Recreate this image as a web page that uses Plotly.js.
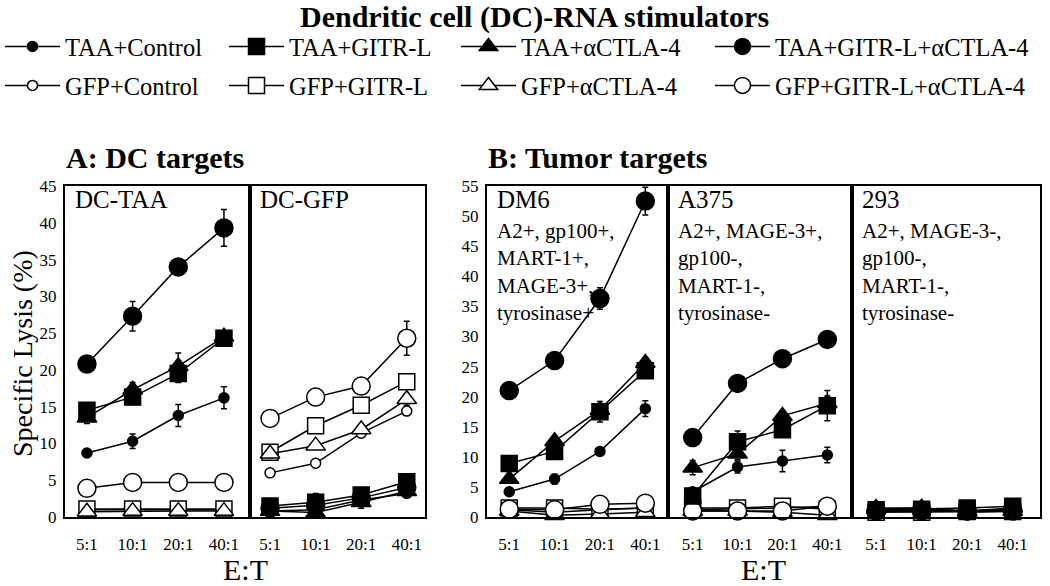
<!DOCTYPE html>
<html>
<head>
<meta charset="utf-8">
<script src="https://cdn.plot.ly/plotly-3.0.1.min.js"></script>
<style>html,body{margin:0;padding:0;background:#fff;}#chart{width:1050px;height:586px;}</style>
</head>
<body>
<div id="chart"></div>
<script>
// ---- data ----
const ratios = ['5:1', '10:1', '20:1', '40:1'];
const seriesNames = ['TAA+Control', 'TAA+GITR-L', 'TAA+αCTLA-4', 'TAA+GITR-L+αCTLA-4',
                     'GFP+Control', 'GFP+GITR-L', 'GFP+αCTLA-4', 'GFP+GITR-L+αCTLA-4'];
const panelNames = ['DC-TAA', 'DC-GFP', 'DM6', 'A375', '293'];
const panelNotes = ['', '', 'A2+, gp100+,<br>MART-1+,<br>MAGE-3+,<br>tyrosinase+',
                    'A2+, MAGE-3+,<br>gp100-,<br>MART-1-,<br>tyrosinase-',
                    'A2+, MAGE-3-,<br>gp100-,<br>MART-1-,<br>tyrosinase-'];
const yTicksA = [0, 5, 10, 15, 20, 25, 30, 35, 40, 45];
const yTicksB = [0, 5, 10, 15, 20, 25, 30, 35, 40, 45, 50, 55];

// rows follow seriesNames order
const dcTaa = [
  [8.7, 10.3, 13.8, 16.2],
  [14.5, 16.3, 19.5, 24.3],
  [13.5, 17.3, 20.5, 24.5],
  [20.8, 27.3, 34.0, 39.3],
  [1.0, 1.0, 1.0, 1.0],
  [1.1, 1.1, 1.1, 1.1],
  [0.7, 0.8, 0.8, 0.8],
  [3.9, 4.7, 4.7, 4.7]
];
const dcTaaErr = [
  [0.4, 1.0, 1.5, 1.5],
  [0.8, 1.0, 1.2, 0.8],
  [0.8, 1.0, 1.8, 0.8],
  [0.8, 2.0, 0.8, 2.5],
  [0.3, 0.3, 0.3, 0.3],
  [0.3, 0.3, 0.3, 0.3],
  [0.3, 0.4, 0.4, 0.4],
  [0.6, 0.6, 0.3, 0.3]
];
const dcGfp = [
  [0.8, 1.0, 2.3, 3.2],
  [1.5, 2.0, 3.0, 4.8],
  [0.8, 0.6, 2.0, 3.5],
  [1.2, 1.6, 2.6, 4.0],
  [6.0, 7.3, 11.4, 14.4],
  [8.8, 12.4, 15.2, 18.4],
  [8.6, 9.7, 11.9, 16.0],
  [13.4, 16.3, 17.8, 24.3]
];
const dcGfpErr = [
  [0.3, 0.4, 0.5, 0.5],
  [0.5, 1.2, 0.8, 0.7],
  [0.3, 0.4, 0.8, 0.5],
  [0.4, 0.5, 0.6, 0.6],
  [0.3, 0.4, 0.4, 0.4],
  [0.5, 0.5, 0.5, 0.7],
  [0.5, 0.5, 0.5, 0.8],
  [0.6, 0.6, 0.5, 2.3]
];
const dm6 = [
  [4.2, 6.3, 10.9, 18.0],
  [8.9, 10.9, 17.5, 24.3],
  [6.3, 12.6, 17.8, 25.6],
  [21.0, 26.0, 36.3, 52.5],
  [1.2, 0.8, 1.2, 1.5],
  [1.5, 1.5, 1.3, 1.5],
  [1.0, 0.3, 0.5, 0.8],
  [1.3, 1.2, 2.1, 2.3]
];
const dm6Err = [
  [0.6, 0.8, 0.3, 1.3],
  [0.5, 0.5, 1.7, 0.8],
  [0.5, 0.8, 1.0, 0.8],
  [0.5, 1.0, 1.8, 2.3],
  [0.3, 0.3, 0.3, 0.3],
  [0.3, 0.4, 0.4, 0.3],
  [0.3, 0.3, 0.3, 0.3],
  [0.3, 0.3, 0.3, 0.3]
];
const a375 = [
  [4.2, 8.3, 9.3, 10.3],
  [3.5, 12.5, 14.5, 18.5],
  [8.2, 10.5, 16.8, 18.9],
  [13.2, 22.2, 26.3, 29.5],
  [1.2, 1.3, 1.5, 1.8],
  [1.5, 1.5, 1.8, 1.3],
  [1.0, 1.0, 0.8, 0.3],
  [1.0, 1.0, 1.0, 1.8]
];
const a375Err = [
  [0.5, 1.0, 1.8, 1.3],
  [1.0, 1.8, 0.8, 2.5],
  [1.2, 1.0, 0.8, 1.2],
  [0.5, 0.5, 0.5, 1.0],
  [0.3, 0.3, 0.4, 0.4],
  [0.3, 0.3, 0.4, 0.4],
  [0.3, 0.3, 0.3, 0.3],
  [0.3, 0.3, 0.3, 0.6]
];
const hek293 = [
  [1.2, 1.2, 1.0, 1.3],
  [1.2, 1.3, 1.5, 1.8],
  [1.5, 1.5, 1.0, 1.5],
  [1.0, 1.0, 1.0, 1.2],
  [1.0, 1.0, 1.0, 1.0],
  [0.8, 0.8, 0.9, 0.9],
  [1.3, 1.5, 0.8, 1.0],
  [1.0, 1.0, 1.0, 1.0]
];
const hek293Err = [
  [0.3, 0.3, 0.3, 0.3],
  [0.3, 0.3, 0.3, 0.4],
  [0.3, 0.3, 0.3, 0.3],
  [0.3, 0.3, 0.3, 0.3],
  [0.3, 0.3, 0.3, 0.3],
  [0.3, 0.3, 0.3, 0.3],
  [0.3, 0.3, 0.3, 0.3],
  [0.3, 0.3, 0.3, 0.3]
];

// ---- styling ----
const W = 1050, H = 586;
const FONT = 'Liberation Serif, Times New Roman, serif';
const symbols = ['circle', 'square', 'triangle-up', 'circle', 'circle', 'square', 'triangle-up', 'circle'];
const sizes = [10, 16, 17, 18, 10, 16, 17, 18];
const fills = ['black', 'black', 'black', 'black', 'white', 'white', 'white', 'white'];
// text-part widths of legend columns (symbol part is added by plotly)
const legendWidths = [154, 162, 184, 262];

const panelData = [dcTaa, dcGfp, dm6, a375, hek293];
const panelErr = [dcTaaErr, dcGfpErr, dm6Err, a375Err, hek293Err];
// pixel frames [left, right]
const frames = [[65, 250], [250, 425], [487, 668], [668, 852], [852, 1040]];
const xRanges = [[-0.48, 3.57], [-0.44, 3.4], [-0.49, 3.5], [-0.55, 3.55], [-0.53, 3.6]];
const yDom = [1 - 517 / H, 1 - 186 / H];

const traces = [];
// draw order: GFP series first, then TAA series
const drawOrder = [4, 5, 6, 7, 0, 2, 1, 3];
panelData.forEach((pd, p) => {
  const ax = p === 0 ? '' : String(p + 1);
  drawOrder.forEach(s => {
    traces.push({
      type: 'scatter', mode: 'lines+markers',
      x: ratios, y: pd[s],
      xaxis: 'x' + ax, yaxis: 'y' + ax,
      name: seriesNames[s], showlegend: false, cliponaxis: false,
      line: {color: 'black', width: 1.5},
      marker: {symbol: symbols[s], size: sizes[s], color: fills[s], line: {color: 'black', width: 1.5}},
      error_y: {type: 'data', array: panelErr[p][s], visible: true, color: 'black', thickness: 1.5, width: 3}
    });
  });
});
// legend-only entries (no data)
seriesNames.forEach((nm, s) => {
  traces.push({
    type: 'scatter', mode: 'lines+markers', x: [null], y: [null],
    xaxis: 'x', yaxis: 'y', name: nm, showlegend: true,
    legend: s < 4 ? 'legend' : 'legend2',
    legendwidth: legendWidths[s % 4],
    line: {color: 'black', width: 1.5},
    marker: {symbol: symbols[s], size: sizes[s], color: fills[s], line: {color: 'black', width: 1.5}}
  });
});

const legendBase = {orientation: 'h', x: 0, xanchor: 'left', yanchor: 'top',
  font: {family: FONT, size: 24.5, color: 'black'}, itemwidth: 55,
  bgcolor: 'rgba(0,0,0,0)', borderwidth: 0, traceorder: 'normal'};

const layout = {
  width: W, height: H,
  margin: {l: 0, r: 0, t: 0, b: 0},
  paper_bgcolor: 'white', plot_bgcolor: 'white',
  font: {family: FONT, color: 'black', size: 17},
  showlegend: true,
  legend: Object.assign({}, legendBase, {y: 1 - 24 / H}),
  legend2: Object.assign({}, legendBase, {y: 1 - 63 / H}),
  annotations: [],
  shapes: []
};

frames.forEach((fr, p) => {
  const ax = p === 0 ? '' : String(p + 1);
  const isA = p < 2;
  layout['xaxis' + ax] = {
    domain: [fr[0] / W, fr[1] / W], type: 'category', range: xRanges[p],
    anchor: 'y' + ax, showline: true, mirror: true, linecolor: 'black', linewidth: 2,
    showgrid: false, zeroline: false, ticks: '', ticklabelstandoff: 11,
    tickfont: {family: FONT, size: 17, color: 'black'}, fixedrange: true
  };
  layout['yaxis' + ax] = {
    domain: yDom, range: isA ? [0, 45] : [0, 55], anchor: 'x' + ax,
    tickvals: isA ? yTicksA : yTicksB,
    showticklabels: (p === 0 || p === 2),
    showline: true, mirror: true, linecolor: 'black', linewidth: 2,
    showgrid: false, zeroline: false, ticks: '', ticklabelstandoff: 3,
    tickfont: {family: FONT, size: 17, color: 'black'}, fixedrange: true
  };
  layout.annotations.push({
    text: panelNames[p], xref: 'paper', yref: 'paper', x: (fr[0] + 8) / W, y: 1 - 200 / H,
    xanchor: 'left', yanchor: 'middle', showarrow: false,
    font: {family: FONT, size: 25, color: 'black'}
  });
  if (panelNotes[p]) {
    layout.annotations.push({
      text: panelNotes[p], xref: 'paper', yref: 'paper', x: (fr[0] + 8) / W, y: 1 - 217 / H,
      xanchor: 'left', yanchor: 'top', align: 'left', showarrow: false,
      font: {family: FONT, size: 21, color: 'black'}
    });
  }
});

layout.annotations.push(
  {text: '<b>Dendritic cell (DC)-RNA stimulators</b>', xref: 'paper', yref: 'paper',
   x: 534 / W, y: 1 - 17 / H, xanchor: 'center', yanchor: 'middle', showarrow: false,
   font: {family: FONT, size: 30, color: 'black'}},
  {text: '<b>A: DC targets</b>', xref: 'paper', yref: 'paper', x: 64 / W, y: 1 - 157 / H,
   xanchor: 'left', yanchor: 'middle', showarrow: false, font: {family: FONT, size: 30, color: 'black'}},
  {text: '<b>B: Tumor targets</b>', xref: 'paper', yref: 'paper', x: 486 / W, y: 1 - 157 / H,
   xanchor: 'left', yanchor: 'middle', showarrow: false, font: {family: FONT, size: 30, color: 'black'}},
  {text: 'Specific Lysis (%)', xref: 'paper', yref: 'paper', x: 22 / W, y: 1 - 354 / H,
   xanchor: 'center', yanchor: 'middle', textangle: -90, showarrow: false,
   font: {family: FONT, size: 28, color: 'black'}},
  {text: 'E:T', xref: 'paper', yref: 'paper', x: 245 / W, y: 1 - 569 / H,
   xanchor: 'center', yanchor: 'middle', showarrow: false, font: {family: FONT, size: 30, color: 'black'}},
  {text: 'E:T', xref: 'paper', yref: 'paper', x: 763 / W, y: 1 - 569 / H,
   xanchor: 'center', yanchor: 'middle', showarrow: false, font: {family: FONT, size: 30, color: 'black'}}
);

Plotly.newPlot('chart', traces, layout, {displayModeBar: false, staticPlot: true});
</script>
</body>
</html>
